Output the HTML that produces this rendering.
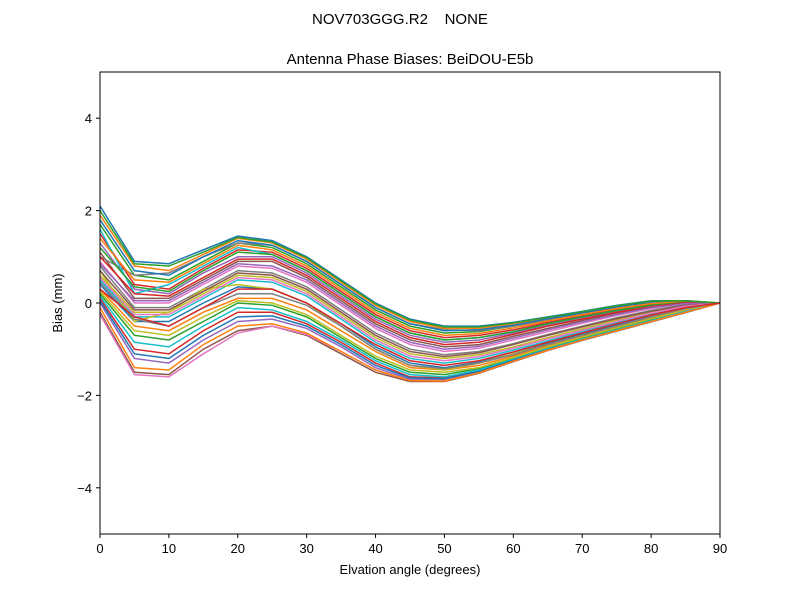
<!DOCTYPE html>
<html><head><meta charset="utf-8"><style>
body{margin:0;background:#fff;}
svg text{font-family:"Liberation Sans","DejaVu Sans",sans-serif;fill:#000;}
</style></head><body>
<svg id="chart" width="800" height="600" xmlns="http://www.w3.org/2000/svg">
<rect width="800" height="600" fill="#fff"/>
<text x="400" y="24" font-size="15" text-anchor="middle" xml:space="preserve">NOV703GGG.R2    NONE</text>
<text x="410" y="64" font-size="15" text-anchor="middle">Antenna Phase Biases: BeiDOU-E5b</text>
<defs><clipPath id="clip"><rect x="100" y="72" width="620" height="462"/></clipPath></defs>
<g id="lines" clip-path="url(#clip)"></g>
<rect x="100" y="72" width="620" height="462" fill="none" stroke="#000" stroke-width="1"/>
<g id="axes"></g>
<text x="410" y="574" font-size="13" text-anchor="middle">Elvation angle (degrees)</text>
<text transform="translate(62,303) rotate(-90)" font-size="13" text-anchor="middle">Bias (mm)</text>
</svg>
<script>
const elevations=[0,5,10,15,20,25,30,35,40,45,50,55,60,65,70,75,80,85,90];
const xTicks=[0,10,20,30,40,50,60,70,80,90];
const yTicks=[-4,-2,0,2,4];
const yTickLabels=["\u22124","\u22122","0","2","4"];
const s1=[2.1,0.9,0.85,1.15,1.45,1.35,1.0,0.5,0.0,-0.35,-0.5,-0.5,-0.42,-0.3,-0.18,-0.05,0.05,0.05,0];
const s2=[1.9,0.8,0.7,1.05,1.4,1.3,0.95,0.45,-0.05,-0.4,-0.55,-0.55,-0.45,-0.32,-0.2,-0.08,0.03,0.05,0];
const s3=[1.7,0.6,0.5,0.9,1.3,1.2,0.85,0.35,-0.15,-0.5,-0.65,-0.62,-0.5,-0.36,-0.23,-0.1,0.0,0.04,0];
const s4=[1.5,0.4,0.3,0.75,1.15,1.1,0.75,0.25,-0.25,-0.6,-0.75,-0.7,-0.58,-0.42,-0.28,-0.14,-0.03,0.03,0];
const s5=[1.3,0.3,0.2,0.65,1.0,1.0,0.65,0.15,-0.35,-0.7,-0.85,-0.8,-0.65,-0.48,-0.33,-0.18,-0.06,0.02,0];
const s6=[1.1,0.1,0.1,0.5,0.9,0.9,0.55,0.05,-0.45,-0.8,-0.95,-0.9,-0.72,-0.55,-0.38,-0.22,-0.09,0.0,0];
const s7=[0.9,0.0,0.0,0.4,0.8,0.75,0.45,-0.05,-0.55,-0.9,-1.05,-0.98,-0.8,-0.62,-0.44,-0.27,-0.12,-0.02,0];
const s8=[0.8,-0.1,-0.1,0.3,0.7,0.65,0.35,-0.15,-0.65,-1.0,-1.12,-1.05,-0.88,-0.68,-0.5,-0.32,-0.16,-0.04,0];
const s9=[0.6,-0.2,-0.2,0.2,0.6,0.55,0.25,-0.25,-0.75,-1.1,-1.2,-1.12,-0.95,-0.75,-0.56,-0.37,-0.2,-0.06,0];
const s10=[0.5,-0.3,-0.3,0.1,0.5,0.45,0.15,-0.35,-0.85,-1.2,-1.3,-1.2,-1.02,-0.82,-0.62,-0.42,-0.24,-0.08,0];
const s11=[0.4,-0.4,-0.4,0.0,0.35,0.3,0.0,-0.45,-0.95,-1.3,-1.4,-1.28,-1.1,-0.88,-0.67,-0.47,-0.28,-0.11,0];
const s12=[0.3,-0.5,-0.6,-0.2,0.1,0.1,-0.15,-0.6,-1.05,-1.4,-1.45,-1.35,-1.15,-0.93,-0.72,-0.52,-0.32,-0.14,0];
const s13=[0.2,-0.7,-0.8,-0.4,0.0,-0.05,-0.3,-0.75,-1.2,-1.5,-1.55,-1.42,-1.2,-0.97,-0.76,-0.56,-0.36,-0.17,0];
const s14=[0.1,-1.0,-1.1,-0.6,-0.2,-0.2,-0.45,-0.85,-1.3,-1.6,-1.62,-1.47,-1.23,-1.0,-0.79,-0.59,-0.39,-0.19,0];
const s15=[0.0,-1.2,-1.3,-0.8,-0.4,-0.35,-0.55,-0.95,-1.4,-1.65,-1.66,-1.5,-1.25,-1.02,-0.8,-0.6,-0.4,-0.2,0];
const s16=[-0.2,-1.5,-1.55,-1.0,-0.6,-0.5,-0.7,-1.1,-1.5,-1.7,-1.7,-1.52,-1.27,-1.03,-0.81,-0.61,-0.41,-0.21,0];
const s17=[-0.25,-1.55,-1.6,-1.1,-0.65,-0.5,-0.68,-1.05,-1.45,-1.68,-1.68,-1.5,-1.26,-1.02,-0.8,-0.6,-0.4,-0.2,0];
const s18=[1.0,0.6,0.65,1.0,1.3,1.25,0.9,0.4,-0.1,-0.45,-0.58,-0.6,-0.5,-0.37,-0.24,-0.11,0.0,0.03,0];
const s19=[0.7,-0.4,-0.2,0.3,0.4,0.3,0.0,-0.5,-1.0,-1.35,-1.45,-1.3,-1.1,-0.9,-0.7,-0.5,-0.3,-0.12,0];
const s20=[1.6,0.2,0.4,0.8,1.2,1.05,0.7,0.2,-0.3,-0.65,-0.8,-0.75,-0.62,-0.45,-0.3,-0.16,-0.05,0.02,0];
const s21=[1.8,0.7,0.6,1.0,1.35,1.25,0.9,0.4,-0.1,-0.45,-0.6,-0.58,-0.48,-0.34,-0.21,-0.09,0.02,0.05,0];
const s22=[1.4,0.5,0.45,0.85,1.25,1.15,0.8,0.3,-0.2,-0.55,-0.7,-0.66,-0.54,-0.39,-0.25,-0.12,-0.01,0.03,0];
const s23=[1.2,0.35,0.25,0.7,1.1,1.05,0.7,0.2,-0.3,-0.65,-0.8,-0.75,-0.62,-0.45,-0.3,-0.16,-0.05,0.02,0];
const s24=[1.0,0.2,0.15,0.55,0.95,0.95,0.6,0.1,-0.4,-0.75,-0.9,-0.85,-0.68,-0.5,-0.35,-0.2,-0.08,0.01,0];
const s25=[0.85,0.05,0.05,0.45,0.85,0.8,0.5,0.0,-0.5,-0.85,-1.0,-0.94,-0.76,-0.58,-0.41,-0.25,-0.1,-0.01,0];
const s26=[0.7,-0.15,-0.15,0.25,0.65,0.6,0.3,-0.2,-0.7,-1.05,-1.16,-1.08,-0.9,-0.7,-0.52,-0.34,-0.18,-0.05,0];
const s27=[0.55,-0.25,-0.25,0.15,0.55,0.5,0.2,-0.3,-0.8,-1.15,-1.25,-1.16,-0.98,-0.78,-0.59,-0.4,-0.22,-0.07,0];
const s28=[0.45,-0.35,-0.5,-0.1,0.2,0.2,-0.05,-0.5,-1.0,-1.35,-1.42,-1.3,-1.12,-0.9,-0.7,-0.5,-0.3,-0.12,0];
const s29=[0.25,-0.6,-0.7,-0.3,0.05,0.0,-0.25,-0.7,-1.15,-1.45,-1.5,-1.4,-1.18,-0.95,-0.74,-0.54,-0.34,-0.16,0];
const s30=[0.15,-0.85,-0.95,-0.5,-0.1,-0.15,-0.4,-0.8,-1.25,-1.55,-1.6,-1.45,-1.22,-0.99,-0.78,-0.58,-0.38,-0.18,0];
const s31=[0.05,-1.1,-1.2,-0.7,-0.3,-0.28,-0.5,-0.9,-1.35,-1.62,-1.64,-1.48,-1.24,-1.01,-0.8,-0.6,-0.4,-0.2,0];
const s32=[-0.1,-1.4,-1.45,-0.9,-0.5,-0.45,-0.65,-1.05,-1.45,-1.68,-1.69,-1.51,-1.26,-1.02,-0.8,-0.6,-0.4,-0.2,0];
const s33=[2.0,0.85,0.8,1.1,1.42,1.32,0.98,0.48,-0.02,-0.37,-0.52,-0.52,-0.43,-0.31,-0.19,-0.06,0.04,0.05,0];
const s34=[0.3,-0.3,-0.5,-0.1,0.3,0.3,0.0,-0.45,-0.9,-1.25,-1.35,-1.25,-1.06,-0.85,-0.65,-0.45,-0.26,-0.1,0];
const seriesList=[s1,s2,s3,s4,s5,s6,s7,s8,s9,s10,s11,s12,s13,s14,s15,s16,s17,s18,s19,s20,s21,s22,s23,s24,s25,s26,s27,s28,s29,s30,s31,s32,s33,s34];
const colors=["#1f77b4","#ff7f0e","#2ca02c","#d62728","#9467bd","#8c564b","#e377c2","#7f7f7f","#bcbd22","#17becf"];
const NS="http://www.w3.org/2000/svg";
function xs(v){return 100+(v-0)/90*620;}
function ys(v){return 534-(v+5)/10*462;}
const lg=document.getElementById('lines');
seriesList.forEach((s,i)=>{
  const p=document.createElementNS(NS,'polyline');
  p.setAttribute('points',s.map((v,j)=>xs(elevations[j])+','+ys(v)).join(' '));
  p.setAttribute('fill','none');
  p.setAttribute('stroke',colors[i%colors.length]);
  p.setAttribute('stroke-width','1.5');
  
  
  lg.appendChild(p);
});
const ax=document.getElementById('axes');
xTicks.forEach(t=>{
  const l=document.createElementNS(NS,'line');
  l.setAttribute('x1',xs(t));l.setAttribute('x2',xs(t));l.setAttribute('y1',534);l.setAttribute('y2',538);
  l.setAttribute('stroke','#000');
  
  
  ax.appendChild(l);
  const tx=document.createElementNS(NS,'text');
  tx.setAttribute('x',xs(t));tx.setAttribute('y',553);tx.setAttribute('font-size','13');tx.setAttribute('text-anchor','middle');
  tx.textContent=String(t);
  
  
  ax.appendChild(tx);
});
yTicks.forEach((t,i)=>{
  const l=document.createElementNS(NS,'line');
  l.setAttribute('x1',96);l.setAttribute('x2',100);l.setAttribute('y1',ys(t));l.setAttribute('y2',ys(t));
  l.setAttribute('stroke','#000');
  
  
  ax.appendChild(l);
  const tx=document.createElementNS(NS,'text');
  tx.setAttribute('x',92);tx.setAttribute('y',ys(t)+5);tx.setAttribute('font-size','13');tx.setAttribute('text-anchor','end');
  tx.textContent=yTickLabels[i];
  
  
  ax.appendChild(tx);
});
</script>
</body></html>
